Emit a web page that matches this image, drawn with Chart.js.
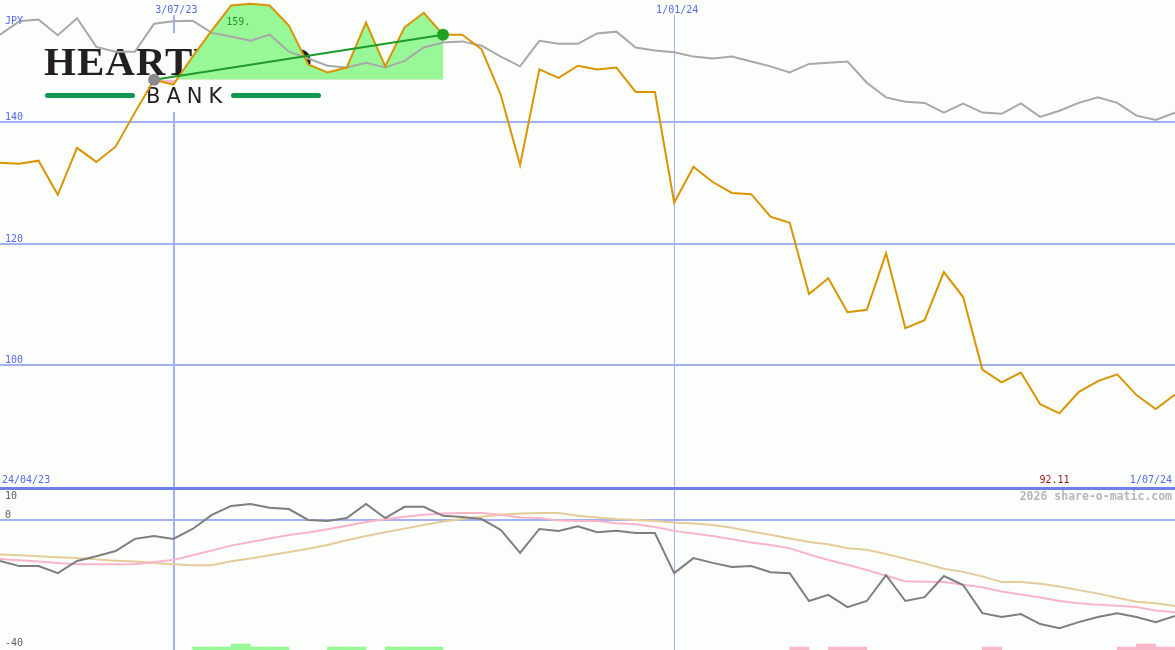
<!DOCTYPE html>
<html>
<head>
<meta charset="utf-8">
<script src="https://cdn.jsdelivr.net/npm/chart.js@4.4.1/dist/chart.umd.min.js"></script>
<style>
    body { margin: 0; background: #fcfefc; }
    #wrap { position: relative; width: 1175px; height: 650px; overflow: hidden; }
    canvas { position: absolute; left: 0; }
    #priceChart { top: 0; }
    #momChart { top: 487px; }
</style>
</head>
<body>
<div id="wrap">
    <canvas id="priceChart" width="1175" height="487"></canvas>
    <canvas id="momChart" width="1175" height="163"></canvas>
</div>
<script>
// weekly closes, 1/05/23 .. 1/07/24
const weeks = [
    '1/05/23', '8/05/23', '15/05/23', '22/05/23', '29/05/23', '5/06/23', '12/06/23', '19/06/23', '26/06/23', '3/07/23',
    '10/07/23', '17/07/23', '24/07/23', '31/07/23', '7/08/23', '14/08/23', '21/08/23', '28/08/23', '4/09/23', '11/09/23',
    '18/09/23', '25/09/23', '2/10/23', '9/10/23', '16/10/23', '23/10/23', '30/10/23', '6/11/23', '13/11/23', '20/11/23',
    '27/11/23', '4/12/23', '11/12/23', '18/12/23', '25/12/23', '1/01/24', '8/01/24', '15/01/24', '22/01/24', '29/01/24',
    '5/02/24', '12/02/24', '19/02/24', '26/02/24', '4/03/24', '11/03/24', '18/03/24', '25/03/24', '1/04/24', '8/04/24',
    '15/04/24', '22/04/24', '29/04/24', '6/05/24', '13/05/24', '20/05/24', '27/05/24', '3/06/24', '10/06/24', '17/06/24',
    '24/06/24', '1/07/24'
];

const price = [
    133.25, 133.1, 133.6, 128.0, 135.7, 133.4, 135.9, 141.5, 146.9, 146.1,
    150.7, 155.0, 159.1, 159.4, 159.1, 155.8, 149.4, 148.1, 148.9, 156.3,
    149.1, 155.5, 157.9, 154.3, 154.3, 151.9, 144.4, 132.9, 148.6, 147.2,
    149.2, 148.6, 148.9, 144.9, 144.9, 126.7, 132.6, 130.1, 128.3, 128.1,
    124.4, 123.4, 111.7, 114.3, 108.7, 109.1, 118.4, 106.1, 107.4, 115.3,
    111.2, 99.3, 97.2, 98.8, 93.6, 92.11, 95.6, 97.4, 98.5, 95.1,
    92.8, 95.2
];

// market index, rebased to the share price
const market = [
    154.3, 156.5, 156.8, 154.2, 157.0, 152.3, 151.5, 151.5, 156.1, 156.5,
    156.6, 154.6, 154.0, 153.3, 154.3, 151.5, 150.4, 149.2, 148.9, 149.7,
    148.9, 150.0, 152.2, 153.0, 153.2, 152.5, 150.7, 149.1, 153.3, 152.8,
    152.8, 154.5, 154.8, 152.2, 151.7, 151.4, 150.7, 150.4, 150.7, 149.9,
    149.1, 148.1, 149.5, 149.7, 149.9, 146.4, 144.0, 143.3, 143.1, 141.5,
    143.0, 141.5, 141.3, 143.0, 140.8, 141.8, 143.1, 144.0, 143.1, 141.0,
    140.3, 141.5
];

const momentum = [
    -12.8, -14.4, -14.4, -16.6, -12.8, -11.3, -9.7, -5.9, -5.0, -5.9,
    -2.8, 1.6, 4.4, 5.0, 3.8, 3.4, 0.0, -0.3, 0.6, 5.0,
    0.6, 4.1, 4.1, 1.3, 0.9, 0.3, -3.1, -10.3, -2.8, -3.4,
    -2.0, -3.8, -3.4, -4.1, -4.1, -16.6, -11.9, -13.4, -14.7, -14.4,
    -16.3, -16.6, -25.3, -23.4, -27.2, -25.3, -17.2, -25.3, -24.1, -17.5,
    -20.3, -29.1, -30.3, -29.4, -32.5, -33.8, -31.9, -30.3, -29.1, -30.3,
    -31.9, -30.0
];

const momShort = [
    -12.2, -12.6, -13.0, -13.4, -13.8, -13.8, -13.8, -13.8, -13.1, -12.5,
    -11.0, -9.5, -8.0, -6.9, -5.8, -4.7, -3.9, -2.9, -1.8, -0.6,
    0.2, 1.0, 1.6, 2.0, 2.2, 2.2, 1.6, 0.8, 0.6, -0.2,
    -0.3, -0.3, -1.0, -1.3, -2.2, -3.4, -4.2, -5.0, -6.0, -7.0,
    -7.8, -8.8, -10.8, -12.5, -14.0, -15.6, -17.4, -19.1, -19.3, -19.4,
    -20.2, -21.0, -22.3, -23.3, -24.2, -25.3, -26.0, -26.5, -26.8, -27.2,
    -28.3, -28.8
];

const momLong = [
    -10.8, -11.0, -11.3, -11.6, -11.9, -12.3, -12.7, -13.0, -13.4, -13.8,
    -14.1, -14.1, -12.9, -12.0, -11.0, -10.0, -9.0, -7.8, -6.3, -5.0,
    -3.8, -2.7, -1.6, -0.5, 0.3, 1.0, 1.6, 2.0, 2.2, 2.2,
    1.3, 0.8, 0.3, 0.0, -0.3, -0.8, -1.1, -1.6, -2.4, -3.6,
    -4.6, -5.8, -6.9, -7.6, -8.8, -9.3, -10.6, -12.1, -13.6, -15.2,
    -16.2, -17.6, -19.4, -19.4, -19.9, -20.8, -21.9, -23.0, -24.3, -25.5,
    -26.0, -26.9
];

// signal weeks (bar covers the week that starts there)
const buyWeeks = [10, 11, 12, 13, 14, 17, 18, 20, 21, 22];
const buyLevel = [1, 1, 2, 1, 1, 1, 1, 1, 1, 1];
const sellWeeks = [41, 43, 44, 51, 58, 59, 60];
const sellLevel = [1, 1, 1, 1, 1, 2, 1];

const trendFrom = 8;
const trendTo = 23;

const priceTicks = [140, 120, 100];
const momTicks = [10, 0, -40];
const dateTicks = ['3/07/23', '1/01/24'];
const rangeStart = '24/04/23';
const rangeEnd = '1/07/24';
const currency = 'JPY';
const peakText = '159.';
const credit = '2026 share-o-matic.com';

const gridBlue = '#a3b0f2';
const labelBlue = '#5568e8';
const mono = '10px "DejaVu Sans Mono"';

const toPoints = (values, from = 0) => values.map((v, i) => ({ x: i + from, y: v }));

function drawVLines(chart, top) {
    const ctx = chart.ctx;
    const xs = chart.scales.x;
    ctx.fillStyle = gridBlue;
    dateTicks.forEach((d, k) => {
        const px = Math.round(xs.getPixelForValue(weeks.indexOf(d)));
        ctx.fillRect(px, top, k === 0 ? 2 : 1, chart.height - top);
    });
}

function drawLogo(ctx) {
    ctx.save();
    ctx.fillStyle = '#fcfefc';
    ctx.fillRect(40, 33, 285, 79);
    ctx.fillStyle = '#231f20';
    ctx.textAlign = 'left';
    ctx.textBaseline = 'alphabetic';
    ctx.font = 'bold 41px "Liberation Serif"';
    ctx.letterSpacing = '1px';
    ctx.fillText('HEARTLAND', 44, 75);
    ctx.font = '21px "DejaVu Sans"';
    ctx.letterSpacing = '6px';
    ctx.fillText('BANK', 146, 103);
    ctx.letterSpacing = '0px';
    ctx.fillStyle = '#119552';
    ctx.beginPath();
    ctx.roundRect(45, 93, 90, 5, 2.5);
    ctx.roundRect(231, 93, 90, 5, 2.5);
    ctx.fill();
    ctx.restore();
}

const pricePlugin = {
    id: 'priceDeco',
    beforeDatasetsDraw(chart) {
        const ctx = chart.ctx;
        const ys = chart.scales.y;
        ctx.save();
        ctx.fillStyle = gridBlue;
        priceTicks.forEach(t => {
            ctx.fillRect(0, Math.round(ys.getPixelForValue(t)) - 1, chart.width, 2);
        });
        drawVLines(chart, 15);
        ctx.restore();
        drawLogo(ctx);
    },
    afterDatasetsDraw(chart) {
        const ctx = chart.ctx;
        const xs = chart.scales.x;
        const ys = chart.scales.y;
        ctx.save();
        ctx.font = mono;
        ctx.textBaseline = 'alphabetic';
        ctx.fillStyle = labelBlue;
        ctx.textAlign = 'left';
        ctx.fillText(currency, 5, 24);
        priceTicks.forEach(t => ctx.fillText(String(t), 5, ys.getPixelForValue(t) - 2));
        ctx.fillText(rangeStart, 2, 483);
        ctx.textAlign = 'center';
        dateTicks.forEach(d => ctx.fillText(d, xs.getPixelForValue(weeks.indexOf(d)) + 3, 13));
        ctx.textAlign = 'right';
        ctx.fillText(rangeEnd, 1172, 483);

        const lo = Math.min(...price);
        const hi = Math.max(...price);
        ctx.fillStyle = '#a01c1c';
        ctx.textAlign = 'center';
        ctx.fillText(lo.toFixed(2), xs.getPixelForValue(price.indexOf(lo)) - 5, 483);
        ctx.fillStyle = '#1f9a1f';
        ctx.textAlign = 'right';
        ctx.fillText(peakText, xs.getPixelForValue(price.indexOf(hi)), 25);
        ctx.restore();
    }
};

const momPlugin = {
    id: 'momDeco',
    beforeDatasetsDraw(chart) {
        const ctx = chart.ctx;
        const ys = chart.scales.y;
        ctx.save();
        ctx.fillStyle = '#6e7fea';
        ctx.fillRect(0, 0, chart.width, 3);
        ctx.fillStyle = gridBlue;
        ctx.fillRect(0, Math.round(ys.getPixelForValue(0)) - 1, chart.width, 2);
        drawVLines(chart, 3);
        ctx.restore();
    },
    afterDatasetsDraw(chart) {
        const ctx = chart.ctx;
        const ys = chart.scales.y;
        ctx.save();
        ctx.font = mono;
        ctx.textBaseline = 'alphabetic';
        ctx.fillStyle = '#606060';
        ctx.textAlign = 'left';
        momTicks.forEach(t => ctx.fillText(String(t), 5, Math.max(ys.getPixelForValue(t) - 2, 12)));
        ctx.font = 'bold 11.5px "DejaVu Sans Mono"';
        ctx.fillStyle = '#b6b6b6';
        ctx.textAlign = 'right';
        ctx.fillText(credit, 1172, 13);
        ctx.restore();
    }
};

const xAxis = { type: 'linear', min: 0, max: weeks.length - 1, offset: false, display: false };

const baseOptions = {
    responsive: false,
    devicePixelRatio: 1,
    animation: false,
    layout: { padding: 0, autoPadding: false },
    plugins: { legend: { display: false }, tooltip: { enabled: false } },
    elements: { point: { radius: 0 }, line: { tension: 0 } }
};

function line(data, color, width) {
    return {
        type: 'line',
        data: data,
        borderColor: color,
        borderWidth: width,
        pointRadius: 0,
        fill: false
    };
}

new Chart(document.getElementById('priceChart'), {
    type: 'line',
    data: {
        datasets: [
            {
                type: 'line',
                data: [
                    { x: trendFrom, y: price[trendFrom] },
                    { x: trendTo, y: price[trendTo] }
                ],
                borderColor: '#1f9a2a',
                borderWidth: 2,
                pointRadius: 6,
                pointBorderWidth: 0,
                pointBackgroundColor: ['#8a8a8a', '#22a022'],
                fill: false
            },
            line(toPoints(price), '#d99400', 2),
            line(toPoints(market), '#a8a8a8', 2),
            {
                type: 'line',
                data: toPoints(price.slice(trendFrom, trendTo + 1), trendFrom),
                borderWidth: 0,
                pointRadius: 0,
                fill: { value: price[trendFrom], above: '#98f898', below: '#f8b8c8' }
            }
        ]
    },
    options: {
        ...baseOptions,
        scales: {
            x: xAxis,
            y: { type: 'linear', min: 80, max: 160, display: false }
        }
    },
    plugins: [pricePlugin]
});

new Chart(document.getElementById('momChart'), {
    type: 'line',
    data: {
        datasets: [
            line(toPoints(momentum), '#7e7e7e', 2),
            line(toPoints(momShort), '#f8b4c8', 2),
            line(toPoints(momLong), '#e4cc9a', 2),
            {
                type: 'bar',
                yAxisID: 'ySig',
                data: buyWeeks.map((w, k) => ({ x: w + 0.5, y: buyLevel[k] })),
                backgroundColor: '#98f898',
                borderWidth: 0,
                grouped: false,
                barPercentage: 1,
                categoryPercentage: 1
            },
            {
                type: 'bar',
                yAxisID: 'ySig',
                data: sellWeeks.map((w, k) => ({ x: w + 0.5, y: sellLevel[k] })),
                backgroundColor: '#f8b8c8',
                borderWidth: 0,
                grouped: false,
                barPercentage: 1,
                categoryPercentage: 1
            }
        ]
    },
    options: {
        ...baseOptions,
        scales: {
            x: { ...xAxis },
            y: { type: 'linear', min: -40.6, max: 10.3, display: false },
            ySig: { type: 'linear', min: 0, max: 54, display: false }
        }
    },
    plugins: [momPlugin]
});
</script>
</body>
</html>
